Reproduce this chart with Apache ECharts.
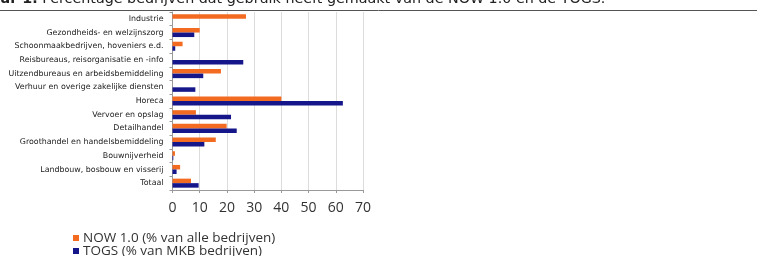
<!DOCTYPE html>
<html>
<head>
<meta charset="utf-8">
<script src="https://cdn.jsdelivr.net/npm/echarts@6/dist/echarts.min.js"></script>
<style>
  html, body { margin: 0; padding: 0; background: #fff; }
  #chart { width: 757px; height: 256px; }
</style>
</head>
<body>
<div id="chart"></div>
<script>
// sectors, top to bottom
var categories = [
  'Industrie',
  'Gezondheids- en welzijnszorg',
  'Schoonmaakbedrijven, hoveniers e.d.',
  'Reisbureaus, reisorganisatie en -info',
  'Uitzendbureaus en arbeidsbemiddeling',
  'Verhuur en overige zakelijke diensten',
  'Horeca',
  'Vervoer en opslag',
  'Detailhandel',
  'Groothandel en handelsbemiddeling',
  'Bouwnijverheid',
  'Landbouw, bosbouw en visserij',
  'Totaal'
]
var nowValues = [27, 10, 3.7, null, 17.8, null, 40, 8.6, 19.9, 15.9, 0.9, 2.8, 6.8]
var togsValues = [null, 8, 1, 26, 11.3, 8.4, 62.6, 21.5, 23.6, 11.7, 0.3, 1.5, 9.6]
var seriesNames = ['NOW 1.0 (% van alle bedrijven)', 'TOGS (% van MKB bedrijven)']
var xTicks = [0, 10, 20, 30, 40, 50, 60, 70]

var legendText = {
  fontFamily: 'Open Sans',
  fontSize: 13.5,
  color: '#333',
  padding: [0, 0, 0, -1]
}

var chart = echarts.init(document.getElementById('chart'))
chart.setOption({
  animation: false,
  color: ['#f36b21', '#14168a'],
  graphic: [
    {
      type: 'text',
      left: 0,
      top: -8,
      style: {
        text: '{b|ur 1.} Percentage bedrijven dat gebruik heeft gemaakt van de NOW 1.0 en de TOGS.',
        font: '14.3px "DejaVu Sans"',
        fill: '#222',
        rich: {
          b: { fontWeight: 'bold', fontSize: 14.3, fontFamily: 'DejaVu Sans', fill: '#222' }
        }
      }
    },
    {
      type: 'line',
      shape: { x1: 0, y1: 10.5, x2: 757, y2: 10.5 },
      style: { stroke: '#555', lineWidth: 1 }
    }
  ],
  legend: [
    {
      left: 68,
      top: 226,
      itemWidth: 6,
      itemHeight: 6,
      icon: 'rect',
      data: [seriesNames[0]],
      textStyle: legendText
    },
    {
      left: 68,
      top: 239,
      itemWidth: 6,
      itemHeight: 6,
      icon: 'rect',
      data: [seriesNames[1]],
      textStyle: legendText
    }
  ],
  grid: {
    left: 172.5,
    right: 394,
    top: 12,
    bottom: 66,
    containLabel: false,
    outerBoundsMode: 'none'
  },
  xAxis: {
    type: 'value',
    min: 0,
    max: 70,
    interval: 10,
    axisLine: { show: true, lineStyle: { color: '#999' } },
    axisTick: { show: true, length: 3, lineStyle: { color: '#999' } },
    splitLine: { show: true, lineStyle: { color: '#dcdcdc' } },
    axisLabel: {
      fontFamily: 'Open Sans',
      fontSize: 14,
      color: '#333',
      margin: 11,
      formatter: function (v) { return xTicks.indexOf(v) >= 0 ? String(v) : '' }
    }
  },
  yAxis: {
    type: 'category',
    inverse: true,
    data: categories,
    axisLine: { show: true, lineStyle: { color: '#999' } },
    axisTick: { show: true, length: 3, lineStyle: { color: '#999' } },
    axisLabel: {
      fontFamily: 'DejaVu Sans',
      fontSize: 7.9,
      color: '#222',
      margin: 9
    }
  },
  series: [
    {
      name: seriesNames[0],
      type: 'bar',
      data: nowValues,
      barGap: '0%',
      barCategoryGap: '34%'
    },
    {
      name: seriesNames[1],
      type: 'bar',
      data: togsValues,
      barGap: '0%',
      barCategoryGap: '34%'
    }
  ]
})
</script>
</body>
</html>
